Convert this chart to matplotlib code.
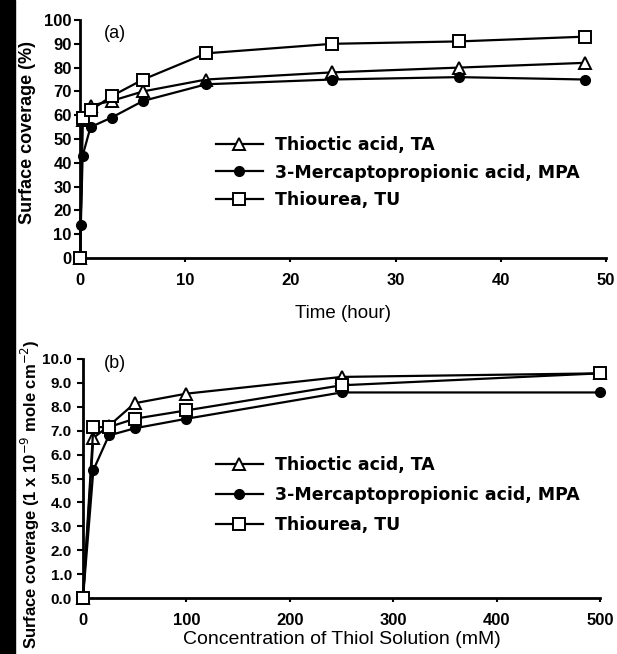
import matplotlib
matplotlib.use("Agg")
import matplotlib.pyplot as plt
from matplotlib.patches import Rectangle
from matplotlib.ticker import FormatStrFormatter

# ==========================
# Data
# ==========================
# (a) surface coverage (%) vs immersion time (hour)
t_ta = [0, 0.25, 1, 3, 6, 12, 24, 36, 48]
cov_ta = [0, 58, 64, 66, 70, 75, 78, 80, 82]
t_mpa = [0, 0.08, 0.25, 1, 3, 6, 12, 24, 36, 48]
cov_mpa = [0, 14, 43, 55, 59, 66, 73, 75, 76, 75]
t_tu = [0, 0.25, 1, 3, 6, 12, 24, 36, 48]
cov_tu = [0, 59, 62, 68, 75, 86, 90, 91, 93]

# (b) surface coverage (1e-9 mole cm-2) vs thiol concentration (mM)
conc = [0, 10, 25, 50, 100, 250, 500]
gam_ta = [0, 6.7, 7.2, 8.15, 8.55, 9.25, 9.4]
gam_mpa = [0, 5.35, 6.8, 7.1, 7.5, 8.6, 8.6]
gam_tu = [0, 7.15, 7.15, 7.5, 7.85, 8.9, 9.4]

labels = ["Thioctic acid, TA", "3-Mercaptopropionic acid, MPA", "Thiourea, TU"]

plt.rcParams['font.family'] = ['Liberation Sans', 'DejaVu Sans']

W, H = 617, 654
fig = plt.figure(figsize=(W / 100, H / 100), dpi=100)

# dark scan edge on the left
fig.patches.append(Rectangle((0, 0), 15 / W, 1, transform=fig.transFigure,
                             color="black", zorder=0))


def box(x0, x1, ytop, ybot):
    return [x0 / W, 1 - ybot / H, (x1 - x0) / W, (ybot - ytop) / H]


ax1 = fig.add_axes(box(80, 606, 20, 258))
ax2 = fig.add_axes(box(83, 600, 359, 598))

style_ta = dict(marker='^', ms=8, mfc='white', mec='black', mew=1.4,
                color='black', lw=1.6, clip_on=False)
style_mpa = dict(marker='o', ms=7, mfc='black', mec='black',
                 color='black', lw=1.6, clip_on=False)
style_tu = dict(marker='s', ms=9, mfc='white', mec='black', mew=1.4,
                color='black', lw=1.6, clip_on=False)

ax1.plot(t_ta, cov_ta, label=labels[0], zorder=3, **style_ta)
ax1.plot(t_mpa, cov_mpa, label=labels[1], zorder=4, **style_mpa)
ax1.plot(t_tu, cov_tu, label=labels[2], zorder=5, **style_tu)

ax2.plot(conc, gam_ta, label=labels[0], zorder=3, **style_ta)
ax2.plot(conc, gam_mpa, label=labels[1], zorder=4, **style_mpa)
ax2.plot(conc, gam_tu, label=labels[2], zorder=5, **style_tu)

ax1.set_xlim(0, 50)
ax1.set_ylim(0, 100)
ax1.set_xticks(range(0, 51, 10))
ax1.set_yticks(range(0, 101, 10))

ax2.set_xlim(0, 500)
ax2.set_ylim(0, 10)
ax2.set_xticks(range(0, 501, 100))
ax2.set_yticks([i * 1.0 for i in range(11)])
ax2.yaxis.set_major_formatter(FormatStrFormatter('%.1f'))

for ax, ysize, ypad in ((ax1, 12, 2), (ax2, 11, 4)):
    for s in ("top", "right"):
        ax.spines[s].set_visible(False)
    for s in ("left", "bottom"):
        ax.spines[s].set_linewidth(2.0)
    ax.tick_params(axis='y', direction='out', length=4, width=1.5, pad=ypad)
    ax.tick_params(axis='x', direction='out', length=3, width=1.5, pad=8)
    for lab in ax.get_yticklabels():
        lab.set_fontweight('bold')
        lab.set_fontsize(ysize)
    for lab in ax.get_xticklabels():
        lab.set_fontweight('bold')
        lab.set_fontsize(12)

ax1.set_xlabel("Time (hour)", fontsize=13.5, labelpad=12)
ax2.set_xlabel("Concentration of Thiol Solution (mM)", fontsize=14, labelpad=2)

fig.text(28 / W, 1 - 133 / H, "Surface coverage (%)", rotation=90,
         ha='center', va='center', fontsize=13, fontweight='bold')
fig.text(30 / W, 1 - 494 / H, "Surface coverage (1 x 10$^{-9}$ mole cm$^{-2}$)",
         rotation=90, ha='center', va='center', fontsize=12, fontweight='bold')

ax1.text(115 / W, 1 - 33 / H, "(a)", transform=fig.transFigure,
         ha='center', va='center', fontsize=13)
ax2.text(115 / W, 1 - 363 / H, "(b)", transform=fig.transFigure,
         ha='center', va='center', fontsize=13)

leg_kw = dict(frameon=False, loc='upper left', handlelength=2.7,
              handletextpad=0.7, borderpad=0, borderaxespad=0,
              prop={'family': 'DejaVu Sans', 'weight': 'bold', 'size': 12.5})
ax1.legend(bbox_to_anchor=(216 / W, 1 - 136 / H),
           bbox_transform=fig.transFigure, labelspacing=0.55, **leg_kw)
ax2.legend(bbox_to_anchor=(216 / W, 1 - 456 / H),
           bbox_transform=fig.transFigure, labelspacing=0.7, **leg_kw)

fig.savefig("out.png", dpi=100)
